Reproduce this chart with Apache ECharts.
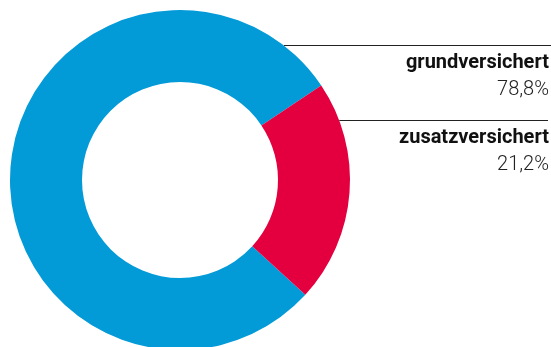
<!DOCTYPE html>
<html>
<head>
<meta charset="utf-8">
<script src="https://cdn.jsdelivr.net/npm/echarts@6/dist/echarts.min.js"></script>
<style>
  html, body { margin: 0; padding: 0; background: #fff; }
  #chart { width: 551px; height: 347px; }
</style>
</head>
<body>
<div id="chart"></div>
<script>
// Share of insured persons by insurance type
const categories = ['grundversichert', 'zusatzversichert'];
const shares = [78.8, 21.2];
const colors = ['#039ad8', '#e4003f'];

// Layout of the ring and the label column on the right
const cx = 180, cy = 180, rOuter = 170, rInner = 98;
const labelRight = 549;
const lineRight = [551, 548];
const lineY = [45.5, 120.5];

function fmt(v) {
  return v.toFixed(1).replace('.', ',') + '%';
}

const chart = echarts.init(document.getElementById('chart'), null, { renderer: 'canvas' });

chart.setOption({
  animation: false,
  series: [{
    type: 'pie',
    center: [cx, cy],
    radius: [rInner, rOuter],
    startAngle: -42.5,
    clockwise: true,
    silent: true,
    avoidLabelOverlap: false,
    data: categories.map((name, i) => ({
      name: name,
      value: shares[i],
      itemStyle: { color: colors[i] }
    })),
    label: {
      show: true,
      position: 'outside',
      formatter: p => '{n|' + p.name + '}\n{v|' + fmt(p.value) + '}',
      rich: {
        n: { fontFamily: 'Roboto', fontWeight: 'bold', fontSize: 20, color: '#111', lineHeight: 27, align: 'right' },
        v: { fontFamily: 'Roboto', fontWeight: 300, fontSize: 20, color: '#222', lineHeight: 27, align: 'right' }
      }
    },
    labelLine: {
      show: true,
      smooth: false,
      lineStyle: { color: '#222', width: 1 }
    },
    labelLayout: function (params) {
      const i = params.dataIndex;
      const y = lineY[i];
      // horizontal rule starting where it meets the outer ring edge
      const xEdge = cx + Math.sqrt(rOuter * rOuter - (cy - y) * (cy - y));
      return {
        x: labelRight,
        y: y + 4,
        align: 'right',
        verticalAlign: 'top',
        hideOverlap: false,
        moveOverlap: false,
        labelLinePoints: [[xEdge, y], [xEdge, y], [lineRight[i], y]]
      };
    }
  }]
});
</script>
</body>
</html>
